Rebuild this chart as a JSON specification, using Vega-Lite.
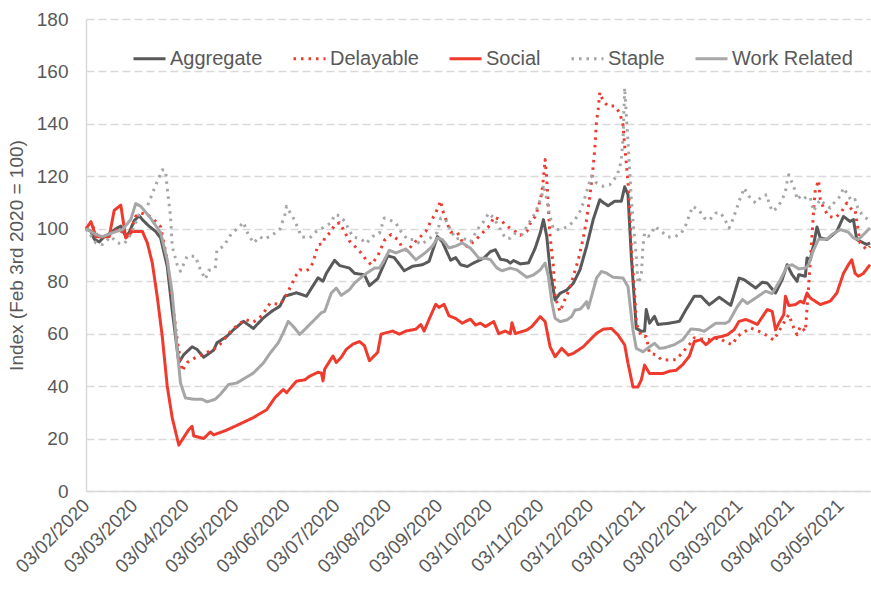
{
"$schema":"https://vega.github.io/schema/vega-lite/v6.json",
"width":784,"height":472,
"autosize":{"type":"none"},
"padding":{"left":86,"top":19,"right":1,"bottom":101},
"background":"white",
"config":{"view":{"stroke":null},"font":"Liberation Sans"},
"data":{"values":[
{"s":"Aggregate","d":"2020-02-03","v":100},{"s":"Aggregate","d":"2020-02-06","v":99},{"s":"Aggregate","d":"2020-02-08","v":96},{"s":"Aggregate","d":"2020-02-11","v":95},{"s":"Aggregate","d":"2020-02-14","v":97},{"s":"Aggregate","d":"2020-02-17","v":98},{"s":"Aggregate","d":"2020-02-21","v":100},{"s":"Aggregate","d":"2020-02-24","v":101},{"s":"Aggregate","d":"2020-02-27","v":97},{"s":"Aggregate","d":"2020-02-29","v":98.5},{"s":"Aggregate","d":"2020-03-03","v":103},{"s":"Aggregate","d":"2020-03-06","v":105},{"s":"Aggregate","d":"2020-03-08","v":103.5},{"s":"Aggregate","d":"2020-03-12","v":101},{"s":"Aggregate","d":"2020-03-16","v":99},{"s":"Aggregate","d":"2020-03-19","v":96.5},{"s":"Aggregate","d":"2020-03-23","v":85.7},{"s":"Aggregate","d":"2020-03-26","v":69},{"s":"Aggregate","d":"2020-03-30","v":49},{"s":"Aggregate","d":"2020-04-02","v":52},{"s":"Aggregate","d":"2020-04-07","v":55},{"s":"Aggregate","d":"2020-04-10","v":54},{"s":"Aggregate","d":"2020-04-14","v":51},{"s":"Aggregate","d":"2020-04-20","v":53.7},{"s":"Aggregate","d":"2020-04-22","v":56.5},{"s":"Aggregate","d":"2020-04-28","v":59},{"s":"Aggregate","d":"2020-05-02","v":61.5},{"s":"Aggregate","d":"2020-05-08","v":64.7},{"s":"Aggregate","d":"2020-05-14","v":62},{"s":"Aggregate","d":"2020-05-20","v":66},{"s":"Aggregate","d":"2020-05-25","v":68.5},{"s":"Aggregate","d":"2020-05-30","v":70.5},{"s":"Aggregate","d":"2020-06-02","v":74.3},{"s":"Aggregate","d":"2020-06-09","v":75.6},{"s":"Aggregate","d":"2020-06-15","v":74.3},{"s":"Aggregate","d":"2020-06-22","v":81.3},{"s":"Aggregate","d":"2020-06-25","v":80},{"s":"Aggregate","d":"2020-06-27","v":83},{"s":"Aggregate","d":"2020-07-02","v":88},{"s":"Aggregate","d":"2020-07-05","v":86},{"s":"Aggregate","d":"2020-07-11","v":85},{"s":"Aggregate","d":"2020-07-14","v":83},{"s":"Aggregate","d":"2020-07-20","v":82.5},{"s":"Aggregate","d":"2020-07-23","v":78.3},{"s":"Aggregate","d":"2020-07-28","v":81},{"s":"Aggregate","d":"2020-08-03","v":89.7},{"s":"Aggregate","d":"2020-08-07","v":89},{"s":"Aggregate","d":"2020-08-13","v":84},{"s":"Aggregate","d":"2020-08-18","v":85.7},{"s":"Aggregate","d":"2020-08-24","v":86.3},{"s":"Aggregate","d":"2020-08-28","v":87.6},{"s":"Aggregate","d":"2020-09-02","v":97},{"s":"Aggregate","d":"2020-09-05","v":95},{"s":"Aggregate","d":"2020-09-10","v":88},{"s":"Aggregate","d":"2020-09-13","v":89},{"s":"Aggregate","d":"2020-09-16","v":86.3},{"s":"Aggregate","d":"2020-09-20","v":85.6},{"s":"Aggregate","d":"2020-09-24","v":87},{"s":"Aggregate","d":"2020-09-30","v":88.8},{"s":"Aggregate","d":"2020-10-04","v":91.3},{"s":"Aggregate","d":"2020-10-07","v":92},{"s":"Aggregate","d":"2020-10-10","v":88.4},{"s":"Aggregate","d":"2020-10-14","v":87.9},{"s":"Aggregate","d":"2020-10-16","v":86.9},{"s":"Aggregate","d":"2020-10-18","v":87.9},{"s":"Aggregate","d":"2020-10-22","v":86.6},{"s":"Aggregate","d":"2020-10-27","v":87},{"s":"Aggregate","d":"2020-10-31","v":92.6},{"s":"Aggregate","d":"2020-11-03","v":98.3},{"s":"Aggregate","d":"2020-11-05","v":103.5},{"s":"Aggregate","d":"2020-11-07","v":97},{"s":"Aggregate","d":"2020-11-09","v":84.3},{"s":"Aggregate","d":"2020-11-12","v":72.8},{"s":"Aggregate","d":"2020-11-15","v":75.4},{"s":"Aggregate","d":"2020-11-19","v":76.6},{"s":"Aggregate","d":"2020-11-23","v":79.2},{"s":"Aggregate","d":"2020-11-27","v":84.3},{"s":"Aggregate","d":"2020-12-01","v":93.2},{"s":"Aggregate","d":"2020-12-05","v":103.5},{"s":"Aggregate","d":"2020-12-09","v":111.1},{"s":"Aggregate","d":"2020-12-11","v":110},{"s":"Aggregate","d":"2020-12-14","v":108.8},{"s":"Aggregate","d":"2020-12-18","v":110.5},{"s":"Aggregate","d":"2020-12-22","v":110.5},{"s":"Aggregate","d":"2020-12-24","v":116},{"s":"Aggregate","d":"2020-12-26","v":113},{"s":"Aggregate","d":"2020-12-28","v":89.5},{"s":"Aggregate","d":"2020-12-31","v":62},{"s":"Aggregate","d":"2021-01-03","v":60.9},{"s":"Aggregate","d":"2021-01-05","v":61},{"s":"Aggregate","d":"2021-01-06","v":69.2},{"s":"Aggregate","d":"2021-01-08","v":64},{"s":"Aggregate","d":"2021-01-11","v":66.6},{"s":"Aggregate","d":"2021-01-13","v":63.5},{"s":"Aggregate","d":"2021-01-20","v":64},{"s":"Aggregate","d":"2021-01-26","v":64.7},{"s":"Aggregate","d":"2021-01-30","v":69.2},{"s":"Aggregate","d":"2021-02-04","v":74.3},{"s":"Aggregate","d":"2021-02-08","v":74.3},{"s":"Aggregate","d":"2021-02-13","v":71},{"s":"Aggregate","d":"2021-02-19","v":73.9},{"s":"Aggregate","d":"2021-02-26","v":70.8},{"s":"Aggregate","d":"2021-03-03","v":81.2},{"s":"Aggregate","d":"2021-03-06","v":80.6},{"s":"Aggregate","d":"2021-03-13","v":77.4},{"s":"Aggregate","d":"2021-03-17","v":79.6},{"s":"Aggregate","d":"2021-03-20","v":79.3},{"s":"Aggregate","d":"2021-03-25","v":75.5},{"s":"Aggregate","d":"2021-03-29","v":80.6},{"s":"Aggregate","d":"2021-04-01","v":86.3},{"s":"Aggregate","d":"2021-04-04","v":82.5},{"s":"Aggregate","d":"2021-04-07","v":80},{"s":"Aggregate","d":"2021-04-08","v":82.5},{"s":"Aggregate","d":"2021-04-12","v":81.9},{"s":"Aggregate","d":"2021-04-13","v":88.9},{"s":"Aggregate","d":"2021-04-15","v":88.2},{"s":"Aggregate","d":"2021-04-17","v":94},{"s":"Aggregate","d":"2021-04-19","v":100.7},{"s":"Aggregate","d":"2021-04-21","v":96.5},{"s":"Aggregate","d":"2021-04-25","v":95.9},{"s":"Aggregate","d":"2021-05-01","v":99},{"s":"Aggregate","d":"2021-05-05","v":104.7},{"s":"Aggregate","d":"2021-05-09","v":102.8},{"s":"Aggregate","d":"2021-05-11","v":103.5},{"s":"Aggregate","d":"2021-05-13","v":95.9},{"s":"Aggregate","d":"2021-05-19","v":94},{"s":"Aggregate","d":"2021-05-21","v":94.6},
{"s":"Delayable","d":"2020-02-03","v":100},{"s":"Delayable","d":"2020-02-07","v":101},{"s":"Delayable","d":"2020-02-10","v":97},{"s":"Delayable","d":"2020-02-15","v":97},{"s":"Delayable","d":"2020-02-20","v":99},{"s":"Delayable","d":"2020-02-23","v":100},{"s":"Delayable","d":"2020-02-27","v":97},{"s":"Delayable","d":"2020-03-01","v":99},{"s":"Delayable","d":"2020-03-04","v":104.8},{"s":"Delayable","d":"2020-03-07","v":106},{"s":"Delayable","d":"2020-03-11","v":105.4},{"s":"Delayable","d":"2020-03-15","v":103.5},{"s":"Delayable","d":"2020-03-19","v":100.8},{"s":"Delayable","d":"2020-03-23","v":88.2},{"s":"Delayable","d":"2020-03-26","v":73},{"s":"Delayable","d":"2020-03-29","v":57.7},{"s":"Delayable","d":"2020-04-01","v":45.7},{"s":"Delayable","d":"2020-04-04","v":49},{"s":"Delayable","d":"2020-04-08","v":50.5},{"s":"Delayable","d":"2020-04-13","v":52},{"s":"Delayable","d":"2020-04-20","v":54},{"s":"Delayable","d":"2020-04-24","v":56},{"s":"Delayable","d":"2020-05-01","v":61.5},{"s":"Delayable","d":"2020-05-09","v":65.4},{"s":"Delayable","d":"2020-05-14","v":64.4},{"s":"Delayable","d":"2020-05-19","v":66.8},{"s":"Delayable","d":"2020-05-24","v":71.6},{"s":"Delayable","d":"2020-05-30","v":71.2},{"s":"Delayable","d":"2020-06-02","v":73.6},{"s":"Delayable","d":"2020-06-06","v":78.7},{"s":"Delayable","d":"2020-06-09","v":82.5},{"s":"Delayable","d":"2020-06-11","v":84.4},{"s":"Delayable","d":"2020-06-14","v":83.8},{"s":"Delayable","d":"2020-06-17","v":84.7},{"s":"Delayable","d":"2020-06-19","v":87.2},{"s":"Delayable","d":"2020-06-22","v":93.9},{"s":"Delayable","d":"2020-06-25","v":94.3},{"s":"Delayable","d":"2020-06-26","v":96.5},{"s":"Delayable","d":"2020-06-30","v":99},{"s":"Delayable","d":"2020-07-02","v":101.6},{"s":"Delayable","d":"2020-07-05","v":102.3},{"s":"Delayable","d":"2020-07-07","v":100},{"s":"Delayable","d":"2020-07-11","v":95.3},{"s":"Delayable","d":"2020-07-15","v":92.8},{"s":"Delayable","d":"2020-07-18","v":90.8},{"s":"Delayable","d":"2020-07-21","v":88.2},{"s":"Delayable","d":"2020-07-24","v":86.3},{"s":"Delayable","d":"2020-07-28","v":89.5},{"s":"Delayable","d":"2020-08-01","v":95.6},{"s":"Delayable","d":"2020-08-05","v":97.8},{"s":"Delayable","d":"2020-08-09","v":95.9},{"s":"Delayable","d":"2020-08-12","v":92.7},{"s":"Delayable","d":"2020-08-15","v":91.5},{"s":"Delayable","d":"2020-08-18","v":94},{"s":"Delayable","d":"2020-08-22","v":96.5},{"s":"Delayable","d":"2020-08-26","v":99},{"s":"Delayable","d":"2020-08-29","v":102.8},{"s":"Delayable","d":"2020-09-01","v":106},{"s":"Delayable","d":"2020-09-04","v":110.7},{"s":"Delayable","d":"2020-09-05","v":107.3},{"s":"Delayable","d":"2020-09-08","v":102},{"s":"Delayable","d":"2020-09-10","v":98.7},{"s":"Delayable","d":"2020-09-14","v":98.7},{"s":"Delayable","d":"2020-09-17","v":95},{"s":"Delayable","d":"2020-09-20","v":93.2},{"s":"Delayable","d":"2020-09-24","v":95.2},{"s":"Delayable","d":"2020-09-27","v":97},{"s":"Delayable","d":"2020-10-01","v":99.6},{"s":"Delayable","d":"2020-10-04","v":101.5},{"s":"Delayable","d":"2020-10-06","v":104.5},{"s":"Delayable","d":"2020-10-10","v":103.4},{"s":"Delayable","d":"2020-10-14","v":101},{"s":"Delayable","d":"2020-10-18","v":99.4},{"s":"Delayable","d":"2020-10-22","v":97.5},{"s":"Delayable","d":"2020-10-26","v":99},{"s":"Delayable","d":"2020-10-28","v":102},{"s":"Delayable","d":"2020-10-31","v":104.7},{"s":"Delayable","d":"2020-11-02","v":108.5},{"s":"Delayable","d":"2020-11-04","v":113.6},{"s":"Delayable","d":"2020-11-05","v":119.4},{"s":"Delayable","d":"2020-11-06","v":126.4},{"s":"Delayable","d":"2020-11-07","v":119},{"s":"Delayable","d":"2020-11-08","v":107.3},{"s":"Delayable","d":"2020-11-09","v":97},{"s":"Delayable","d":"2020-11-11","v":85.6},{"s":"Delayable","d":"2020-11-12","v":74.1},{"s":"Delayable","d":"2020-11-15","v":68.4},{"s":"Delayable","d":"2020-11-17","v":71.6},{"s":"Delayable","d":"2020-11-20","v":76},{"s":"Delayable","d":"2020-11-23","v":81.8},{"s":"Delayable","d":"2020-11-26","v":88.2},{"s":"Delayable","d":"2020-11-29","v":96.4},{"s":"Delayable","d":"2020-12-01","v":103.4},{"s":"Delayable","d":"2020-12-03","v":112.4},{"s":"Delayable","d":"2020-12-05","v":123.8},{"s":"Delayable","d":"2020-12-06","v":130.8},{"s":"Delayable","d":"2020-12-07","v":141},{"s":"Delayable","d":"2020-12-08","v":145.5},{"s":"Delayable","d":"2020-12-09","v":152},{"s":"Delayable","d":"2020-12-11","v":148.7},{"s":"Delayable","d":"2020-12-14","v":146.8},{"s":"Delayable","d":"2020-12-18","v":146.8},{"s":"Delayable","d":"2020-12-21","v":144.2},{"s":"Delayable","d":"2020-12-23","v":139.7},{"s":"Delayable","d":"2020-12-24","v":131.5},{"s":"Delayable","d":"2020-12-26","v":118.1},{"s":"Delayable","d":"2020-12-27","v":107.3},{"s":"Delayable","d":"2020-12-28","v":92},{"s":"Delayable","d":"2020-12-30","v":75.4},{"s":"Delayable","d":"2020-12-31","v":64},{"s":"Delayable","d":"2021-01-03","v":58.9},{"s":"Delayable","d":"2021-01-06","v":58.9},{"s":"Delayable","d":"2021-01-08","v":52.5},{"s":"Delayable","d":"2021-01-12","v":52},{"s":"Delayable","d":"2021-01-15","v":50.1},{"s":"Delayable","d":"2021-01-19","v":50},{"s":"Delayable","d":"2021-01-24","v":50.1},{"s":"Delayable","d":"2021-01-28","v":52.9},{"s":"Delayable","d":"2021-02-01","v":55.8},{"s":"Delayable","d":"2021-02-04","v":58.4},{"s":"Delayable","d":"2021-02-08","v":58},{"s":"Delayable","d":"2021-02-14","v":57.7},{"s":"Delayable","d":"2021-02-19","v":58.4},{"s":"Delayable","d":"2021-02-23","v":56.7},{"s":"Delayable","d":"2021-02-27","v":55.8},{"s":"Delayable","d":"2021-03-02","v":59},{"s":"Delayable","d":"2021-03-10","v":62.2},{"s":"Delayable","d":"2021-03-15","v":60.9},{"s":"Delayable","d":"2021-03-19","v":59.6},{"s":"Delayable","d":"2021-03-24","v":57.5},{"s":"Delayable","d":"2021-03-27","v":60.9},{"s":"Delayable","d":"2021-03-30","v":64.1},{"s":"Delayable","d":"2021-04-02","v":67.3},{"s":"Delayable","d":"2021-04-05","v":62.2},{"s":"Delayable","d":"2021-04-07","v":59.6},{"s":"Delayable","d":"2021-04-09","v":62.8},{"s":"Delayable","d":"2021-04-12","v":60.9},{"s":"Delayable","d":"2021-04-14","v":78.3},{"s":"Delayable","d":"2021-04-15","v":88.2},{"s":"Delayable","d":"2021-04-16","v":97.1},{"s":"Delayable","d":"2021-04-17","v":107.3},{"s":"Delayable","d":"2021-04-18","v":114.9},{"s":"Delayable","d":"2021-04-20","v":118.5},{"s":"Delayable","d":"2021-04-21","v":111.1},{"s":"Delayable","d":"2021-04-23","v":107.9},{"s":"Delayable","d":"2021-04-26","v":104.8},{"s":"Delayable","d":"2021-04-30","v":104.1},{"s":"Delayable","d":"2021-05-04","v":106.7},{"s":"Delayable","d":"2021-05-07","v":109.8},{"s":"Delayable","d":"2021-05-10","v":107.3},{"s":"Delayable","d":"2021-05-12","v":107.3},{"s":"Delayable","d":"2021-05-15","v":94.6},{"s":"Delayable","d":"2021-05-19","v":92},{"s":"Delayable","d":"2021-05-21","v":93.3},
{"s":"Social","d":"2020-02-03","v":100},{"s":"Social","d":"2020-02-06","v":102.7},{"s":"Social","d":"2020-02-09","v":97},{"s":"Social","d":"2020-02-13","v":97},{"s":"Social","d":"2020-02-17","v":97},{"s":"Social","d":"2020-02-20","v":107},{"s":"Social","d":"2020-02-24","v":109},{"s":"Social","d":"2020-02-27","v":96.5},{"s":"Social","d":"2020-03-02","v":99},{"s":"Social","d":"2020-03-08","v":99},{"s":"Social","d":"2020-03-11","v":94.6},{"s":"Social","d":"2020-03-14","v":87},{"s":"Social","d":"2020-03-17","v":74},{"s":"Social","d":"2020-03-20","v":59},{"s":"Social","d":"2020-03-23","v":40},{"s":"Social","d":"2020-03-26","v":28},{"s":"Social","d":"2020-03-30","v":17.5},{"s":"Social","d":"2020-04-01","v":19.5},{"s":"Social","d":"2020-04-05","v":23.4},{"s":"Social","d":"2020-04-07","v":24.7},{"s":"Social","d":"2020-04-08","v":21},{"s":"Social","d":"2020-04-14","v":20},{"s":"Social","d":"2020-04-18","v":22.5},{"s":"Social","d":"2020-04-20","v":21.4},{"s":"Social","d":"2020-04-27","v":23},{"s":"Social","d":"2020-05-04","v":25},{"s":"Social","d":"2020-05-14","v":28},{"s":"Social","d":"2020-05-22","v":31},{"s":"Social","d":"2020-05-27","v":35.6},{"s":"Social","d":"2020-06-01","v":38.7},{"s":"Social","d":"2020-06-03","v":37.5},{"s":"Social","d":"2020-06-09","v":41.9},{"s":"Social","d":"2020-06-14","v":42.4},{"s":"Social","d":"2020-06-17","v":43.8},{"s":"Social","d":"2020-06-22","v":45.3},{"s":"Social","d":"2020-06-24","v":45},{"s":"Social","d":"2020-06-25","v":42},{"s":"Social","d":"2020-06-26","v":46.5},{"s":"Social","d":"2020-07-01","v":51.5},{"s":"Social","d":"2020-07-03","v":49},{"s":"Social","d":"2020-07-06","v":51},{"s":"Social","d":"2020-07-09","v":54},{"s":"Social","d":"2020-07-13","v":56},{"s":"Social","d":"2020-07-17","v":57},{"s":"Social","d":"2020-07-20","v":55.4},{"s":"Social","d":"2020-07-23","v":49.7},{"s":"Social","d":"2020-07-26","v":51.6},{"s":"Social","d":"2020-07-28","v":52.9},{"s":"Social","d":"2020-07-30","v":59.8},{"s":"Social","d":"2020-08-06","v":61},{"s":"Social","d":"2020-08-10","v":59.8},{"s":"Social","d":"2020-08-14","v":61},{"s":"Social","d":"2020-08-20","v":61.7},{"s":"Social","d":"2020-08-23","v":63.5},{"s":"Social","d":"2020-08-25","v":61},{"s":"Social","d":"2020-08-28","v":65.5},{"s":"Social","d":"2020-09-01","v":71.2},{"s":"Social","d":"2020-09-03","v":70},{"s":"Social","d":"2020-09-06","v":71.2},{"s":"Social","d":"2020-09-09","v":66.8},{"s":"Social","d":"2020-09-13","v":65.8},{"s":"Social","d":"2020-09-17","v":64},{"s":"Social","d":"2020-09-20","v":65},{"s":"Social","d":"2020-09-22","v":65.5},{"s":"Social","d":"2020-09-25","v":63.3},{"s":"Social","d":"2020-09-28","v":64},{"s":"Social","d":"2020-10-01","v":62.7},{"s":"Social","d":"2020-10-06","v":64.6},{"s":"Social","d":"2020-10-09","v":60},{"s":"Social","d":"2020-10-13","v":61},{"s":"Social","d":"2020-10-16","v":60},{"s":"Social","d":"2020-10-17","v":64.2},{"s":"Social","d":"2020-10-19","v":60},{"s":"Social","d":"2020-10-26","v":61.4},{"s":"Social","d":"2020-10-29","v":62.7},{"s":"Social","d":"2020-11-03","v":66.5},{"s":"Social","d":"2020-11-06","v":64.6},{"s":"Social","d":"2020-11-09","v":55},{"s":"Social","d":"2020-11-12","v":51.2},{"s":"Social","d":"2020-11-16","v":54.4},{"s":"Social","d":"2020-11-20","v":51.8},{"s":"Social","d":"2020-11-23","v":52.5},{"s":"Social","d":"2020-11-29","v":55},{"s":"Social","d":"2020-12-03","v":57.6},{"s":"Social","d":"2020-12-07","v":60.1},{"s":"Social","d":"2020-12-11","v":61.7},{"s":"Social","d":"2020-12-16","v":62},{"s":"Social","d":"2020-12-20","v":59.5},{"s":"Social","d":"2020-12-24","v":55.7},{"s":"Social","d":"2020-12-26","v":48.7},{"s":"Social","d":"2020-12-29","v":39.7},{"s":"Social","d":"2021-01-01","v":39.7},{"s":"Social","d":"2021-01-03","v":42.3},{"s":"Social","d":"2021-01-05","v":48},{"s":"Social","d":"2021-01-08","v":44.8},{"s":"Social","d":"2021-01-12","v":44.8},{"s":"Social","d":"2021-01-16","v":44.8},{"s":"Social","d":"2021-01-20","v":45.7},{"s":"Social","d":"2021-01-24","v":46},{"s":"Social","d":"2021-01-28","v":48.2},{"s":"Social","d":"2021-02-01","v":51.4},{"s":"Social","d":"2021-02-04","v":57},{"s":"Social","d":"2021-02-08","v":57.7},{"s":"Social","d":"2021-02-11","v":55.8},{"s":"Social","d":"2021-02-16","v":58.4},{"s":"Social","d":"2021-02-21","v":59},{"s":"Social","d":"2021-02-24","v":59.6},{"s":"Social","d":"2021-02-28","v":61.5},{"s":"Social","d":"2021-03-03","v":64.7},{"s":"Social","d":"2021-03-07","v":65.4},{"s":"Social","d":"2021-03-10","v":64.7},{"s":"Social","d":"2021-03-14","v":63.5},{"s":"Social","d":"2021-03-20","v":69.2},{"s":"Social","d":"2021-03-23","v":68.5},{"s":"Social","d":"2021-03-25","v":61.5},{"s":"Social","d":"2021-03-27","v":64},{"s":"Social","d":"2021-03-30","v":67.3},{"s":"Social","d":"2021-03-31","v":74.3},{"s":"Social","d":"2021-04-02","v":70.7},{"s":"Social","d":"2021-04-06","v":71.1},{"s":"Social","d":"2021-04-09","v":72.4},{"s":"Social","d":"2021-04-11","v":71.7},{"s":"Social","d":"2021-04-13","v":75.5},{"s":"Social","d":"2021-04-15","v":73.6},{"s":"Social","d":"2021-04-21","v":71.1},{"s":"Social","d":"2021-04-27","v":72.4},{"s":"Social","d":"2021-05-01","v":75.5},{"s":"Social","d":"2021-05-05","v":83},{"s":"Social","d":"2021-05-08","v":86.3},{"s":"Social","d":"2021-05-10","v":88.2},{"s":"Social","d":"2021-05-12","v":83},{"s":"Social","d":"2021-05-14","v":81.9},{"s":"Social","d":"2021-05-17","v":83},{"s":"Social","d":"2021-05-21","v":86.3},
{"s":"Staple","d":"2020-02-03","v":100},{"s":"Staple","d":"2020-02-09","v":94.6},{"s":"Staple","d":"2020-02-13","v":94},{"s":"Staple","d":"2020-02-18","v":97},{"s":"Staple","d":"2020-02-22","v":94.6},{"s":"Staple","d":"2020-02-26","v":94.2},{"s":"Staple","d":"2020-03-01","v":97.8},{"s":"Staple","d":"2020-03-06","v":105.4},{"s":"Staple","d":"2020-03-11","v":108.6},{"s":"Staple","d":"2020-03-15","v":115},{"s":"Staple","d":"2020-03-17","v":118},{"s":"Staple","d":"2020-03-20","v":122.5},{"s":"Staple","d":"2020-03-22","v":122.2},{"s":"Staple","d":"2020-03-23","v":115.5},{"s":"Staple","d":"2020-03-25","v":104.8},{"s":"Staple","d":"2020-03-26","v":93.3},{"s":"Staple","d":"2020-03-29","v":86.3},{"s":"Staple","d":"2020-03-31","v":83.8},{"s":"Staple","d":"2020-04-04","v":89.5},{"s":"Staple","d":"2020-04-09","v":89.5},{"s":"Staple","d":"2020-04-12","v":84.4},{"s":"Staple","d":"2020-04-15","v":80.8},{"s":"Staple","d":"2020-04-17","v":84.1},{"s":"Staple","d":"2020-04-21","v":85},{"s":"Staple","d":"2020-04-22","v":92},{"s":"Staple","d":"2020-04-26","v":93.3},{"s":"Staple","d":"2020-05-01","v":98.4},{"s":"Staple","d":"2020-05-05","v":100.4},{"s":"Staple","d":"2020-05-08","v":102.5},{"s":"Staple","d":"2020-05-10","v":99},{"s":"Staple","d":"2020-05-14","v":94.6},{"s":"Staple","d":"2020-05-18","v":97},{"s":"Staple","d":"2020-05-20","v":96},{"s":"Staple","d":"2020-05-25","v":97.3},{"s":"Staple","d":"2020-05-27","v":98.4},{"s":"Staple","d":"2020-05-30","v":99.9},{"s":"Staple","d":"2020-06-02","v":105.4},{"s":"Staple","d":"2020-06-03","v":108.6},{"s":"Staple","d":"2020-06-05","v":106.3},{"s":"Staple","d":"2020-06-08","v":103.1},{"s":"Staple","d":"2020-06-12","v":96.9},{"s":"Staple","d":"2020-06-17","v":96.5},{"s":"Staple","d":"2020-06-21","v":99},{"s":"Staple","d":"2020-06-25","v":100.4},{"s":"Staple","d":"2020-06-30","v":102.3},{"s":"Staple","d":"2020-07-02","v":105.4},{"s":"Staple","d":"2020-07-05","v":105},{"s":"Staple","d":"2020-07-08","v":102.9},{"s":"Staple","d":"2020-07-13","v":96.9},{"s":"Staple","d":"2020-07-18","v":96.1},{"s":"Staple","d":"2020-07-21","v":94.4},{"s":"Staple","d":"2020-07-25","v":97.1},{"s":"Staple","d":"2020-07-29","v":98.2},{"s":"Staple","d":"2020-08-01","v":104.1},{"s":"Staple","d":"2020-08-04","v":103.5},{"s":"Staple","d":"2020-08-08","v":102.2},{"s":"Staple","d":"2020-08-11","v":99},{"s":"Staple","d":"2020-08-15","v":95.9},{"s":"Staple","d":"2020-08-19","v":95.9},{"s":"Staple","d":"2020-08-23","v":94},{"s":"Staple","d":"2020-08-27","v":95.6},{"s":"Staple","d":"2020-08-30","v":97.1},{"s":"Staple","d":"2020-09-02","v":98.6},{"s":"Staple","d":"2020-09-04","v":104.1},{"s":"Staple","d":"2020-09-07","v":103.5},{"s":"Staple","d":"2020-09-10","v":99.6},{"s":"Staple","d":"2020-09-13","v":96.1},{"s":"Staple","d":"2020-09-17","v":96.5},{"s":"Staple","d":"2020-09-22","v":95},{"s":"Staple","d":"2020-09-26","v":99.6},{"s":"Staple","d":"2020-09-30","v":102.8},{"s":"Staple","d":"2020-10-03","v":106},{"s":"Staple","d":"2020-10-06","v":104.1},{"s":"Staple","d":"2020-10-09","v":100.9},{"s":"Staple","d":"2020-10-13","v":96.4},{"s":"Staple","d":"2020-10-16","v":96.4},{"s":"Staple","d":"2020-10-19","v":98.3},{"s":"Staple","d":"2020-10-23","v":97.7},{"s":"Staple","d":"2020-10-26","v":100.9},{"s":"Staple","d":"2020-10-29","v":104.1},{"s":"Staple","d":"2020-10-31","v":106},{"s":"Staple","d":"2020-11-02","v":109.2},{"s":"Staple","d":"2020-11-04","v":112.4},{"s":"Staple","d":"2020-11-05","v":116.8},{"s":"Staple","d":"2020-11-07","v":111.1},{"s":"Staple","d":"2020-11-08","v":107.3},{"s":"Staple","d":"2020-11-09","v":104.7},{"s":"Staple","d":"2020-11-11","v":99.9},{"s":"Staple","d":"2020-11-15","v":99.6},{"s":"Staple","d":"2020-11-20","v":100.9},{"s":"Staple","d":"2020-11-24","v":103.4},{"s":"Staple","d":"2020-11-27","v":106.6},{"s":"Staple","d":"2020-11-29","v":109.8},{"s":"Staple","d":"2020-12-02","v":116.2},{"s":"Staple","d":"2020-12-04","v":120},{"s":"Staple","d":"2020-12-07","v":117.5},{"s":"Staple","d":"2020-12-11","v":116.2},{"s":"Staple","d":"2020-12-15","v":116.8},{"s":"Staple","d":"2020-12-19","v":120},{"s":"Staple","d":"2020-12-21","v":123.2},{"s":"Staple","d":"2020-12-22","v":127},{"s":"Staple","d":"2020-12-23","v":134},{"s":"Staple","d":"2020-12-24","v":153.8},{"s":"Staple","d":"2020-12-25","v":143},{"s":"Staple","d":"2020-12-26","v":133.4},{"s":"Staple","d":"2020-12-27","v":122.5},{"s":"Staple","d":"2020-12-28","v":111.1},{"s":"Staple","d":"2020-12-29","v":103.4},{"s":"Staple","d":"2020-12-31","v":89.4},{"s":"Staple","d":"2021-01-01","v":79.2},{"s":"Staple","d":"2021-01-03","v":81.8},{"s":"Staple","d":"2021-01-04","v":93.2},{"s":"Staple","d":"2021-01-05","v":98.3},{"s":"Staple","d":"2021-01-07","v":97.1},{"s":"Staple","d":"2021-01-09","v":97.7},{"s":"Staple","d":"2021-01-11","v":100.9},{"s":"Staple","d":"2021-01-14","v":99.6},{"s":"Staple","d":"2021-01-19","v":96.9},{"s":"Staple","d":"2021-01-23","v":96.9},{"s":"Staple","d":"2021-01-27","v":98.1},{"s":"Staple","d":"2021-01-30","v":101.6},{"s":"Staple","d":"2021-02-03","v":108.6},{"s":"Staple","d":"2021-02-07","v":107},{"s":"Staple","d":"2021-02-10","v":104.1},{"s":"Staple","d":"2021-02-13","v":103.2},{"s":"Staple","d":"2021-02-17","v":106},{"s":"Staple","d":"2021-02-20","v":106},{"s":"Staple","d":"2021-02-23","v":102.8},{"s":"Staple","d":"2021-02-25","v":100.3},{"s":"Staple","d":"2021-02-27","v":103.2},{"s":"Staple","d":"2021-03-01","v":106.7},{"s":"Staple","d":"2021-03-03","v":110.5},{"s":"Staple","d":"2021-03-05","v":113.6},{"s":"Staple","d":"2021-03-06","v":115.6},{"s":"Staple","d":"2021-03-09","v":112.4},{"s":"Staple","d":"2021-03-13","v":109.8},{"s":"Staple","d":"2021-03-17","v":112.6},{"s":"Staple","d":"2021-03-20","v":113},{"s":"Staple","d":"2021-03-21","v":109.8},{"s":"Staple","d":"2021-03-23","v":106.7},{"s":"Staple","d":"2021-03-26","v":107.9},{"s":"Staple","d":"2021-03-29","v":111.1},{"s":"Staple","d":"2021-03-31","v":114.3},{"s":"Staple","d":"2021-04-01","v":118.1},{"s":"Staple","d":"2021-04-02","v":120.6},{"s":"Staple","d":"2021-04-04","v":117.5},{"s":"Staple","d":"2021-04-06","v":114.3},{"s":"Staple","d":"2021-04-07","v":111.1},{"s":"Staple","d":"2021-04-09","v":112.4},{"s":"Staple","d":"2021-04-11","v":111.4},{"s":"Staple","d":"2021-04-13","v":112.4},{"s":"Staple","d":"2021-04-15","v":111.7},{"s":"Staple","d":"2021-04-17","v":106.7},{"s":"Staple","d":"2021-04-19","v":109.2},{"s":"Staple","d":"2021-04-21","v":111.1},{"s":"Staple","d":"2021-04-24","v":109.2},{"s":"Staple","d":"2021-04-27","v":107.9},{"s":"Staple","d":"2021-04-30","v":110.5},{"s":"Staple","d":"2021-05-03","v":112.4},{"s":"Staple","d":"2021-05-05","v":115.6},{"s":"Staple","d":"2021-05-07","v":113.6},{"s":"Staple","d":"2021-05-10","v":110.5},{"s":"Staple","d":"2021-05-12","v":111.1},{"s":"Staple","d":"2021-05-14","v":107.3},{"s":"Staple","d":"2021-05-17","v":104.8},{"s":"Staple","d":"2021-05-20","v":103.5},{"s":"Staple","d":"2021-05-21","v":104.1},
{"s":"Work Related","d":"2020-02-03","v":100},{"s":"Work Related","d":"2020-02-09","v":97.8},{"s":"Work Related","d":"2020-02-13","v":97},{"s":"Work Related","d":"2020-02-19","v":98.5},{"s":"Work Related","d":"2020-02-25","v":99.7},{"s":"Work Related","d":"2020-03-01","v":103.5},{"s":"Work Related","d":"2020-03-04","v":109.6},{"s":"Work Related","d":"2020-03-07","v":108.6},{"s":"Work Related","d":"2020-03-13","v":104},{"s":"Work Related","d":"2020-03-19","v":98.5},{"s":"Work Related","d":"2020-03-23","v":88.2},{"s":"Work Related","d":"2020-03-26","v":75.5},{"s":"Work Related","d":"2020-03-29","v":54},{"s":"Work Related","d":"2020-03-31","v":41.2},{"s":"Work Related","d":"2020-04-03","v":35.5},{"s":"Work Related","d":"2020-04-08","v":35},{"s":"Work Related","d":"2020-04-13","v":35},{"s":"Work Related","d":"2020-04-16","v":34},{"s":"Work Related","d":"2020-04-21","v":35},{"s":"Work Related","d":"2020-04-24","v":36.8},{"s":"Work Related","d":"2020-04-29","v":40.6},{"s":"Work Related","d":"2020-05-04","v":41.2},{"s":"Work Related","d":"2020-05-08","v":42.7},{"s":"Work Related","d":"2020-05-14","v":45},{"s":"Work Related","d":"2020-05-20","v":48.8},{"s":"Work Related","d":"2020-05-24","v":52.5},{"s":"Work Related","d":"2020-05-29","v":56.5},{"s":"Work Related","d":"2020-06-01","v":60.3},{"s":"Work Related","d":"2020-06-04","v":64.7},{"s":"Work Related","d":"2020-06-07","v":62.8},{"s":"Work Related","d":"2020-06-11","v":59.7},{"s":"Work Related","d":"2020-06-17","v":63.5},{"s":"Work Related","d":"2020-06-24","v":68},{"s":"Work Related","d":"2020-06-26","v":68.5},{"s":"Work Related","d":"2020-06-30","v":75.5},{"s":"Work Related","d":"2020-07-03","v":77.4},{"s":"Work Related","d":"2020-07-06","v":74.6},{"s":"Work Related","d":"2020-07-11","v":76.8},{"s":"Work Related","d":"2020-07-14","v":79.3},{"s":"Work Related","d":"2020-07-20","v":82.5},{"s":"Work Related","d":"2020-07-26","v":85},{"s":"Work Related","d":"2020-07-29","v":85},{"s":"Work Related","d":"2020-07-31","v":87},{"s":"Work Related","d":"2020-08-04","v":91.8},{"s":"Work Related","d":"2020-08-08","v":90.8},{"s":"Work Related","d":"2020-08-14","v":92.3},{"s":"Work Related","d":"2020-08-20","v":88.2},{"s":"Work Related","d":"2020-08-26","v":91},{"s":"Work Related","d":"2020-08-30","v":93.4},{"s":"Work Related","d":"2020-09-02","v":96.5},{"s":"Work Related","d":"2020-09-05","v":95.9},{"s":"Work Related","d":"2020-09-09","v":92.7},{"s":"Work Related","d":"2020-09-13","v":93.4},{"s":"Work Related","d":"2020-09-17","v":94.6},{"s":"Work Related","d":"2020-09-22","v":92.6},{"s":"Work Related","d":"2020-09-27","v":88.8},{"s":"Work Related","d":"2020-10-01","v":88.8},{"s":"Work Related","d":"2020-10-04","v":88.2},{"s":"Work Related","d":"2020-10-08","v":85},{"s":"Work Related","d":"2020-10-11","v":84},{"s":"Work Related","d":"2020-10-16","v":85},{"s":"Work Related","d":"2020-10-20","v":84.3},{"s":"Work Related","d":"2020-10-26","v":81.5},{"s":"Work Related","d":"2020-10-30","v":82.4},{"s":"Work Related","d":"2020-11-03","v":84.3},{"s":"Work Related","d":"2020-11-06","v":86.9},{"s":"Work Related","d":"2020-11-08","v":81.8},{"s":"Work Related","d":"2020-11-10","v":72.2},{"s":"Work Related","d":"2020-11-12","v":65.9},{"s":"Work Related","d":"2020-11-15","v":64.6},{"s":"Work Related","d":"2020-11-19","v":65.2},{"s":"Work Related","d":"2020-11-22","v":66.5},{"s":"Work Related","d":"2020-11-24","v":69},{"s":"Work Related","d":"2020-11-27","v":69.3},{"s":"Work Related","d":"2020-11-29","v":70.6},{"s":"Work Related","d":"2020-12-01","v":72.2},{"s":"Work Related","d":"2020-12-02","v":69.7},{"s":"Work Related","d":"2020-12-04","v":74.2},{"s":"Work Related","d":"2020-12-07","v":81.2},{"s":"Work Related","d":"2020-12-10","v":83.7},{"s":"Work Related","d":"2020-12-13","v":83.1},{"s":"Work Related","d":"2020-12-17","v":81.5},{"s":"Work Related","d":"2020-12-23","v":81.2},{"s":"Work Related","d":"2020-12-26","v":77.9},{"s":"Work Related","d":"2020-12-29","v":61.4},{"s":"Work Related","d":"2020-12-31","v":54.4},{"s":"Work Related","d":"2021-01-04","v":53.1},{"s":"Work Related","d":"2021-01-08","v":55},{"s":"Work Related","d":"2021-01-11","v":56.3},{"s":"Work Related","d":"2021-01-14","v":54.4},{"s":"Work Related","d":"2021-01-17","v":54.6},{"s":"Work Related","d":"2021-01-23","v":55.8},{"s":"Work Related","d":"2021-01-28","v":57.7},{"s":"Work Related","d":"2021-02-02","v":61.8},{"s":"Work Related","d":"2021-02-07","v":61.5},{"s":"Work Related","d":"2021-02-10","v":60.9},{"s":"Work Related","d":"2021-02-17","v":64},{"s":"Work Related","d":"2021-02-23","v":64},{"s":"Work Related","d":"2021-02-25","v":64.7},{"s":"Work Related","d":"2021-03-02","v":70.4},{"s":"Work Related","d":"2021-03-05","v":73},{"s":"Work Related","d":"2021-03-08","v":71.5},{"s":"Work Related","d":"2021-03-13","v":73.6},{"s":"Work Related","d":"2021-03-19","v":76.2},{"s":"Work Related","d":"2021-03-23","v":75.3},{"s":"Work Related","d":"2021-03-28","v":80.6},{"s":"Work Related","d":"2021-04-01","v":85.7},{"s":"Work Related","d":"2021-04-04","v":86.3},{"s":"Work Related","d":"2021-04-08","v":84.7},{"s":"Work Related","d":"2021-04-12","v":85},{"s":"Work Related","d":"2021-04-14","v":86.3},{"s":"Work Related","d":"2021-04-17","v":92},{"s":"Work Related","d":"2021-04-20","v":96},{"s":"Work Related","d":"2021-04-25","v":96},{"s":"Work Related","d":"2021-04-28","v":97.8},{"s":"Work Related","d":"2021-05-03","v":99.7},{"s":"Work Related","d":"2021-05-08","v":98.7},{"s":"Work Related","d":"2021-05-11","v":96.5},{"s":"Work Related","d":"2021-05-14","v":95.9},{"s":"Work Related","d":"2021-05-18","v":98.4},{"s":"Work Related","d":"2021-05-21","v":100.3}
]},
"mark":{"type":"line","strokeWidth":3,"strokeJoin":"round"},
"encoding":{
"x":{"field":"d","type":"temporal","scale":{"type":"utc","domain":[{"year":2020,"month":2,"date":3,"utc":true},{"year":2021,"month":5,"date":21,"utc":true}]},
"axis":{"title":null,"format":"%d/%m/%Y","values":[{"year":2020,"month":2,"date":3,"utc":true},{"year":2020,"month":3,"date":3,"utc":true},{"year":2020,"month":4,"date":3,"utc":true},{"year":2020,"month":5,"date":3,"utc":true},{"year":2020,"month":6,"date":3,"utc":true},{"year":2020,"month":7,"date":3,"utc":true},{"year":2020,"month":8,"date":3,"utc":true},{"year":2020,"month":9,"date":3,"utc":true},{"year":2020,"month":10,"date":3,"utc":true},{"year":2020,"month":11,"date":3,"utc":true},{"year":2020,"month":12,"date":3,"utc":true},{"year":2021,"month":1,"date":3,"utc":true},{"year":2021,"month":2,"date":3,"utc":true},{"year":2021,"month":3,"date":3,"utc":true},{"year":2021,"month":4,"date":3,"utc":true},{"year":2021,"month":5,"date":3,"utc":true}],
"labelAngle":-45,"labelAlign":"right","labelBaseline":"middle","labelFontSize":19,"labelColor":"#595959","labelPadding":11,"labelOverlap":false,"labelFlush":false,"labelBound":false,"ticks":false,"grid":false,"domainColor":"#D9D9D9","domainWidth":1.5}},
"y":{"field":"v","type":"quantitative","scale":{"domain":[0,180],"nice":false},
"axis":{"title":"Index (Feb 3rd 2020 = 100)","titleFontSize":19,"titleFontWeight":"normal","titleColor":"#595959","titlePadding":10,"values":[0,20,40,60,80,100,120,140,160,180],"labelFontSize":19,"labelColor":"#595959","labelPadding":18,"ticks":false,"grid":true,"gridDash":[8,4],"gridColor":"#D9D9D9","gridWidth":1.3,"domainColor":"#D9D9D9","domainWidth":1.5}},
"color":{"field":"s","type":"nominal","scale":{"domain":["Aggregate","Delayable","Social","Staple","Work Related"],"range":["#595959","#EE3B2E","#EE3B2E","#A6A6A6","#A6A6A6"]},
"legend":{"title":null,"orient":"none","legendX":46,"legendY":22,"direction":"horizontal","symbolType":"stroke","symbolSize":1024,"symbolStrokeWidth":3,"labelFontSize":20,"labelColor":"#595959","columnPadding":24,"labelOffset":3,"padding":0}},
"strokeDash":{"field":"s","type":"nominal","scale":{"domain":["Aggregate","Delayable","Social","Staple","Work Related"],"range":[[1,0],[2.5,5],[1,0],[2.5,5],[1,0]]},
"legend":{"title":null,"orient":"none","legendX":46,"legendY":22,"direction":"horizontal","symbolType":"stroke","symbolSize":1024,"symbolStrokeWidth":3,"labelFontSize":20,"labelColor":"#595959","columnPadding":24,"labelOffset":3,"padding":0}}
}
}
